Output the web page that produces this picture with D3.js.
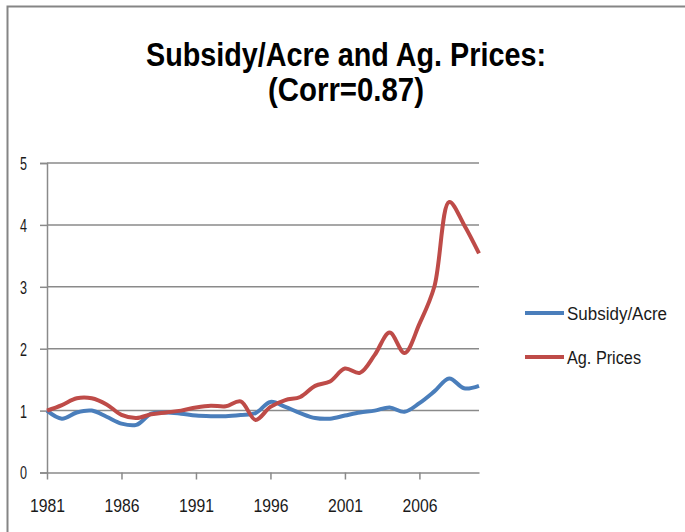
<!DOCTYPE html>
<html>
<head>
<meta charset="utf-8">
<script src="https://cdn.jsdelivr.net/npm/d3@7"></script>
<style>
  body { margin: 0; background: #fff; }
  svg text { font-family: "Liberation Sans", Arial, sans-serif; fill: #1a1a1a; }
</style>
</head>
<body>
<svg id="chart" width="685" height="532"></svg>
<script>
// data
const years = [1981, 1982, 1983, 1984, 1985, 1986, 1987, 1988, 1989, 1990,
               1991, 1992, 1993, 1994, 1995, 1996, 1997, 1998, 1999, 2000,
               2001, 2002, 2003, 2004, 2005, 2006, 2007, 2008, 2009, 2010];
const subsidyPerAcre = [1.00, 0.87, 0.97, 1.00, 0.90, 0.79, 0.77, 0.95, 0.97, 0.95,
                        0.92, 0.91, 0.91, 0.93, 0.96, 1.14, 1.06, 0.96, 0.88, 0.87,
                        0.92, 0.97, 1.00, 1.05, 0.98, 1.12, 1.31, 1.52, 1.36, 1.40];
const agPrices = [1.00, 1.09, 1.20, 1.20, 1.10, 0.93, 0.88, 0.94, 0.97, 1.00,
                  1.05, 1.08, 1.07, 1.15, 0.85, 1.06, 1.17, 1.22, 1.40, 1.47,
                  1.68, 1.61, 1.90, 2.26, 1.93, 2.40, 3.00, 4.37, 4.00, 3.54];
const yTicks = [0, 1, 2, 3, 4, 5];
const xTickYears = [1981, 1986, 1991, 1996, 2001, 2006];
const seriesNames = ["Subsidy/Acre", "Ag. Prices"];
const seriesColors = ["#4a7ebb", "#be4b48"];
const titleLines = ["Subsidy/Acre and Ag. Prices:", "(Corr=0.87)"];

const svg = d3.select("#chart");
const gridColor = "#8a8a8a";

// outer chart border (only top and left are visible)
svg.append("path")
  .attr("d", "M7.5,540 L7.5,6.5 L700,6.5")
  .attr("fill", "none").attr("stroke", "#858585").attr("stroke-width", 2);

const x = d3.scalePoint().domain(years).range([47, 479]);
const y = d3.scaleLinear().domain([0, 5]).range([472.5, 163]);

// title, squeezed to the narrow look of the original
const titleW = [400, 156];
const titleY = [66, 101];
titleLines.forEach((t, i) => {
  svg.append("text")
    .attr("x", 346).attr("y", titleY[i])
    .attr("text-anchor", "middle")
    .attr("font-size", 34).attr("font-weight", "bold")
    .attr("textLength", titleW[i]).attr("lengthAdjust", "spacingAndGlyphs")
    .style("fill", "#000")
    .text(t);
});

// gridlines
svg.append("g").selectAll("line")
  .data(yTicks.slice(1))
  .join("line")
    .attr("x1", 47).attr("x2", 479)
    .attr("y1", d => y(d)).attr("y2", d => y(d))
    .attr("stroke", gridColor).attr("stroke-width", 1.5);

// y axis
const yAxis = svg.append("g")
  .attr("transform", "translate(47,0)")
  .call(d3.axisLeft(y).tickValues(yTicks).tickSize(7).tickFormat(d3.format("d")));
yAxis.select(".domain").attr("stroke", gridColor).attr("stroke-width", 1.5);
yAxis.selectAll(".tick line").attr("stroke", gridColor).attr("stroke-width", 1.5);
yAxis.selectAll(".tick text")
  .attr("x", -20).attr("dy", "0.36em")
  .attr("font-size", 18)
  .attr("textLength", 7).attr("lengthAdjust", "spacingAndGlyphs");

// x axis
const xAxis = svg.append("g")
  .attr("transform", `translate(0,${y(0)})`)
  .call(d3.axisBottom(x).tickValues(xTickYears).tickSize(7).tickSizeOuter(0));
xAxis.select(".domain").attr("stroke", gridColor).attr("stroke-width", 1.5);
xAxis.selectAll(".tick line").attr("stroke", gridColor).attr("stroke-width", 1.5);
xAxis.selectAll(".tick text")
  .attr("y", 39).attr("dy", 0)
  .attr("font-size", 19)
  .attr("textLength", 35).attr("lengthAdjust", "spacingAndGlyphs");

// lines
const line = d3.line()
  .x((d, i) => x(years[i]))
  .y(d => y(d))
  .curve(d3.curveCatmullRom.alpha(0.5));

[subsidyPerAcre, agPrices].forEach((vals, k) => {
  svg.append("path")
    .datum(vals)
    .attr("d", line)
    .attr("fill", "none")
    .attr("stroke", seriesColors[k])
    .attr("stroke-width", 4)
    .attr("stroke-linejoin", "round");
});

// legend
const legendY = [313, 357];
const legendW = [100, 74];
seriesNames.forEach((name, k) => {
  svg.append("line")
    .attr("x1", 525).attr("x2", 564)
    .attr("y1", legendY[k]).attr("y2", legendY[k])
    .attr("stroke", seriesColors[k]).attr("stroke-width", 4);
  svg.append("text")
    .attr("x", 567).attr("y", legendY[k] + 6.5)
    .attr("font-size", 18)
    .attr("textLength", legendW[k]).attr("lengthAdjust", "spacingAndGlyphs")
    .text(name);
});
</script>
</body>
</html>
